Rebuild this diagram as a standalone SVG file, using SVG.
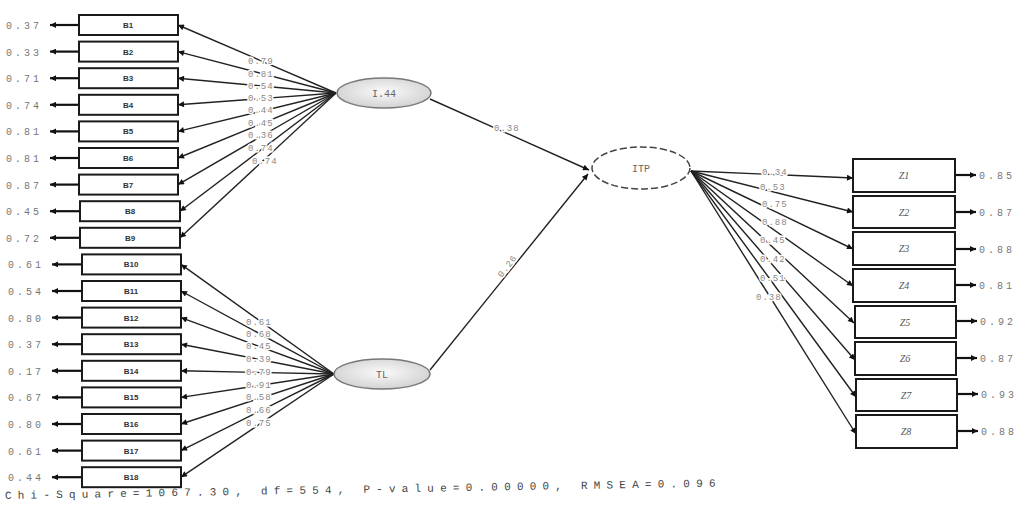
<svg xmlns="http://www.w3.org/2000/svg" width="1022" height="511" viewBox="0 0 1022 511">
<defs>
<marker id="ah" viewBox="0 0 10 10" refX="10" refY="5" markerWidth="9" markerHeight="6" orient="auto" markerUnits="userSpaceOnUse"><path d="M0,0 L10,5 L0,10 z" fill="#111"/></marker>
<radialGradient id="eg" cx="50%" cy="45%" r="60%"><stop offset="0" stop-color="#fafafa"/><stop offset="1" stop-color="#cfcfcf"/></radialGradient>
<style>
.box{fill:#fff;stroke:#1a1a1a;stroke-width:2}
.bl{font-family:"Liberation Sans",Arial,sans-serif;font-size:8px;font-weight:bold;fill:#333;text-anchor:middle}
.rl{font-family:"Liberation Serif",serif;font-size:10px;font-style:italic;fill:#555;text-anchor:middle}
.val{font-family:"Liberation Mono",monospace;font-size:10px;fill:#777;letter-spacing:3px}
.ld{font-family:"Liberation Mono",monospace;font-size:9px;fill:#888;letter-spacing:1px;stroke:#fff;stroke-width:3px;paint-order:stroke}
.ln{stroke:#222;stroke-width:1.4;fill:none;marker-end:url(#ah)}
.er{stroke:#111;stroke-width:2.2;fill:none;marker-end:url(#ah)}
.el{font-family:"Liberation Mono",monospace;font-size:10px;fill:#666;text-anchor:middle}
.chi{font-family:"Liberation Mono",monospace;font-size:11px;fill:#444;letter-spacing:6.2px}
</style>
</defs>
<g id="connectors">
<line class="er" x1="79" y1="25" x2="50" y2="25"/>
<line class="er" x1="79" y1="51.6" x2="50" y2="51.6"/>
<line class="er" x1="79" y1="78.2" x2="50" y2="78.2"/>
<line class="er" x1="79" y1="104.8" x2="50" y2="104.8"/>
<line class="er" x1="79" y1="131.4" x2="50" y2="131.4"/>
<line class="er" x1="79" y1="158" x2="50" y2="158"/>
<line class="er" x1="79" y1="184.6" x2="50" y2="184.6"/>
<line class="er" x1="80" y1="211.2" x2="50" y2="211.2"/>
<line class="er" x1="80" y1="237.8" x2="50" y2="237.8"/>
<line class="er" x1="82" y1="264.4" x2="52" y2="264.4"/>
<line class="er" x1="82" y1="291" x2="52" y2="291"/>
<line class="er" x1="82" y1="317.6" x2="52" y2="317.6"/>
<line class="er" x1="82" y1="344.2" x2="52" y2="344.2"/>
<line class="er" x1="82" y1="370.8" x2="52" y2="370.8"/>
<line class="er" x1="82" y1="397.4" x2="52" y2="397.4"/>
<line class="er" x1="82" y1="424" x2="52" y2="424"/>
<line class="er" x1="82" y1="450.6" x2="52" y2="450.6"/>
<line class="er" x1="82" y1="477.2" x2="52" y2="477.2"/>
<line class="ln" x1="336" y1="93" x2="178" y2="25"/>
<line class="ln" x1="336" y1="93" x2="178" y2="51.6"/>
<line class="ln" x1="336" y1="93" x2="178" y2="78.2"/>
<line class="ln" x1="336" y1="93" x2="178" y2="104.8"/>
<line class="ln" x1="336" y1="93" x2="178" y2="131.4"/>
<line class="ln" x1="336" y1="93" x2="178" y2="158"/>
<line class="ln" x1="336" y1="93" x2="178" y2="184.6"/>
<line class="ln" x1="336" y1="93" x2="180" y2="211.2"/>
<line class="ln" x1="336" y1="93" x2="180" y2="237.8"/>
<line class="ln" x1="334" y1="374" x2="181" y2="264.4"/>
<line class="ln" x1="334" y1="374" x2="181" y2="291"/>
<line class="ln" x1="334" y1="374" x2="181" y2="317.6"/>
<line class="ln" x1="334" y1="374" x2="181" y2="344.2"/>
<line class="ln" x1="334" y1="374" x2="181" y2="370.8"/>
<line class="ln" x1="334" y1="374" x2="181" y2="397.4"/>
<line class="ln" x1="334" y1="374" x2="181" y2="424"/>
<line class="ln" x1="334" y1="374" x2="181" y2="450.6"/>
<line class="ln" x1="334" y1="374" x2="181" y2="477.2"/>
<line class="ln" x1="430" y1="99" x2="589" y2="170"/>
<line class="ln" x1="430" y1="370" x2="588" y2="174"/>
<line class="ln" x1="691" y1="171" x2="853" y2="212"/>
<line class="ln" x1="691" y1="171" x2="853" y2="249"/>
<line class="ln" x1="691" y1="171" x2="853" y2="286"/>
<line class="ln" x1="691" y1="171" x2="854" y2="323"/>
<line class="ln" x1="691" y1="171" x2="855" y2="360"/>
<line class="ln" x1="691" y1="171" x2="856" y2="397"/>
<line class="ln" x1="691" y1="171" x2="856" y2="434"/>
<line class="ln" x1="691" y1="171" x2="853" y2="178"/>
<line class="er" x1="955" y1="175" x2="976" y2="175"/>
<line class="er" x1="955" y1="212" x2="976" y2="212"/>
<line class="er" x1="955" y1="249" x2="976" y2="249"/>
<line class="er" x1="955" y1="285" x2="976" y2="285"/>
<line class="er" x1="956" y1="321" x2="977" y2="321"/>
<line class="er" x1="956" y1="358" x2="977" y2="358"/>
<line class="er" x1="957" y1="394" x2="978" y2="394"/>
<line class="er" x1="957" y1="431" x2="978" y2="431"/>
<text class="ld" x="248" y="64">0.79</text>
<text class="ld" x="248" y="77">0.81</text>
<text class="ld" x="248" y="89">0.54</text>
<text class="ld" x="248" y="101">0.53</text>
<text class="ld" x="248" y="113">0.44</text>
<text class="ld" x="248" y="126">0.45</text>
<text class="ld" x="248" y="138">0.36</text>
<text class="ld" x="248" y="151">0.74</text>
<text class="ld" x="252" y="164">0.74</text>
<text class="ld" x="246" y="325">0.61</text>
<text class="ld" x="246" y="337">0.68</text>
<text class="ld" x="246" y="349">0.45</text>
<text class="ld" x="246" y="362">0.39</text>
<text class="ld" x="246" y="375">0.79</text>
<text class="ld" x="246" y="388">0.91</text>
<text class="ld" x="246" y="400">0.58</text>
<text class="ld" x="246" y="413">0.66</text>
<text class="ld" x="246" y="426">0.75</text>
<text class="ld" x="762" y="175">0.34</text>
<text class="ld" x="760" y="190">0.53</text>
<text class="ld" x="762" y="207">0.75</text>
<text class="ld" x="762" y="225">0.88</text>
<text class="ld" x="760" y="243">0.45</text>
<text class="ld" x="760" y="262">0.42</text>
<text class="ld" x="760" y="281">0.51</text>
<text class="ld" x="756" y="300">0.38</text>
<text class="ld" x="494" y="131">0.38</text>
<text class="ld" x="494" y="270" transform="rotate(-52 506 266)">0.26</text>
</g>
<g id="errors-left">
<text class="val" x="6" y="29">0.37</text>
<text class="val" x="6" y="55.6">0.33</text>
<text class="val" x="6" y="82.2">0.71</text>
<text class="val" x="6" y="108.8">0.74</text>
<text class="val" x="6" y="135.4">0.81</text>
<text class="val" x="6" y="162">0.81</text>
<text class="val" x="6" y="188.6">0.87</text>
<text class="val" x="6" y="215.2">0.45</text>
<text class="val" x="6" y="241.8">0.72</text>
<text class="val" x="8" y="268.4">0.61</text>
<text class="val" x="8" y="295">0.54</text>
<text class="val" x="8" y="321.6">0.80</text>
<text class="val" x="8" y="348.2">0.37</text>
<text class="val" x="8" y="374.8">0.17</text>
<text class="val" x="8" y="401.4">0.67</text>
<text class="val" x="8" y="428">0.80</text>
<text class="val" x="8" y="454.6">0.61</text>
<text class="val" x="8" y="481.2">0.44</text>
</g>
<g id="B1"><rect class="box" x="79" y="15" width="99" height="20"/><text class="bl" x="128" y="28">B1</text></g>
<g id="B2"><rect class="box" x="79" y="41.6" width="99" height="20"/><text class="bl" x="128" y="54.6">B2</text></g>
<g id="B3"><rect class="box" x="79" y="68.2" width="99" height="20"/><text class="bl" x="128" y="81.2">B3</text></g>
<g id="B4"><rect class="box" x="79" y="94.8" width="99" height="20"/><text class="bl" x="128" y="107.8">B4</text></g>
<g id="B5"><rect class="box" x="79" y="121.4" width="99" height="20"/><text class="bl" x="128" y="134.4">B5</text></g>
<g id="B6"><rect class="box" x="79" y="148" width="99" height="20"/><text class="bl" x="128" y="161">B6</text></g>
<g id="B7"><rect class="box" x="79" y="174.6" width="99" height="20"/><text class="bl" x="128" y="187.6">B7</text></g>
<g id="B8"><rect class="box" x="80" y="201.2" width="100" height="20"/><text class="bl" x="130" y="214.2">B8</text></g>
<g id="B9"><rect class="box" x="80" y="227.8" width="100" height="20"/><text class="bl" x="130" y="240.8">B9</text></g>
<g id="B10"><rect class="box" x="82" y="254.4" width="99" height="20"/><text class="bl" x="131" y="267.4">B10</text></g>
<g id="B11"><rect class="box" x="82" y="281" width="99" height="20"/><text class="bl" x="131" y="294">B11</text></g>
<g id="B12"><rect class="box" x="82" y="307.6" width="99" height="20"/><text class="bl" x="131" y="320.6">B12</text></g>
<g id="B13"><rect class="box" x="82" y="334.2" width="99" height="20"/><text class="bl" x="131" y="347.2">B13</text></g>
<g id="B14"><rect class="box" x="82" y="360.8" width="99" height="20"/><text class="bl" x="131" y="373.8">B14</text></g>
<g id="B15"><rect class="box" x="82" y="387.4" width="99" height="20"/><text class="bl" x="131" y="400.4">B15</text></g>
<g id="B16"><rect class="box" x="82" y="414" width="99" height="20"/><text class="bl" x="131" y="427">B16</text></g>
<g id="B17"><rect class="box" x="82" y="440.6" width="99" height="20"/><text class="bl" x="131" y="453.6">B17</text></g>
<g id="B18"><rect class="box" x="82" y="467.2" width="99" height="20"/><text class="bl" x="131" y="480.2">B18</text></g>
<g id="L1"><ellipse cx="384" cy="93" rx="47" ry="15" fill="url(#eg)" stroke="#777" stroke-width="1.5"/><text class="el" x="384" y="97">I.44</text></g>
<g id="L2"><ellipse cx="382" cy="374" rx="48" ry="15" fill="url(#eg)" stroke="#777" stroke-width="1.5"/><text class="el" x="382" y="378">TL</text></g>
<g id="L3"><ellipse cx="641" cy="168" rx="49" ry="21" fill="#fff" stroke="#444" stroke-width="1.5" stroke-dasharray="7 3"/><text class="el" x="641" y="172">ITP</text></g>
<g id="Z1"><rect class="box" x="853" y="159" width="102" height="33"/><text class="rl" x="904" y="179">Z1</text></g>
<g id="Z2"><rect class="box" x="853" y="196" width="102" height="32"/><text class="rl" x="904" y="216">Z2</text></g>
<g id="Z3"><rect class="box" x="853" y="232" width="102" height="33"/><text class="rl" x="904" y="252">Z3</text></g>
<g id="Z4"><rect class="box" x="853" y="269" width="102" height="33"/><text class="rl" x="904" y="289">Z4</text></g>
<g id="Z5"><rect class="box" x="855" y="306" width="101" height="32"/><text class="rl" x="905" y="326">Z5</text></g>
<g id="Z6"><rect class="box" x="855" y="342" width="101" height="33"/><text class="rl" x="905" y="362">Z6</text></g>
<g id="Z7"><rect class="box" x="856" y="379" width="101" height="32"/><text class="rl" x="906" y="399">Z7</text></g>
<g id="Z8"><rect class="box" x="856" y="415" width="101" height="33"/><text class="rl" x="906" y="435">Z8</text></g>
<g id="errors-right">
<text class="val" x="979" y="179">0.85</text>
<text class="val" x="979" y="216">0.87</text>
<text class="val" x="979" y="253">0.88</text>
<text class="val" x="979" y="289">0.81</text>
<text class="val" x="980" y="325">0.92</text>
<text class="val" x="980" y="362">0.87</text>
<text class="val" x="981" y="398">0.93</text>
<text class="val" x="981" y="435">0.88</text>
</g>
<text class="chi" x="5" y="499" transform="rotate(-1 5 499)">Chi-Square=1067.30, df=554, P-value=0.00000, RMSEA=0.096</text>
</svg>
